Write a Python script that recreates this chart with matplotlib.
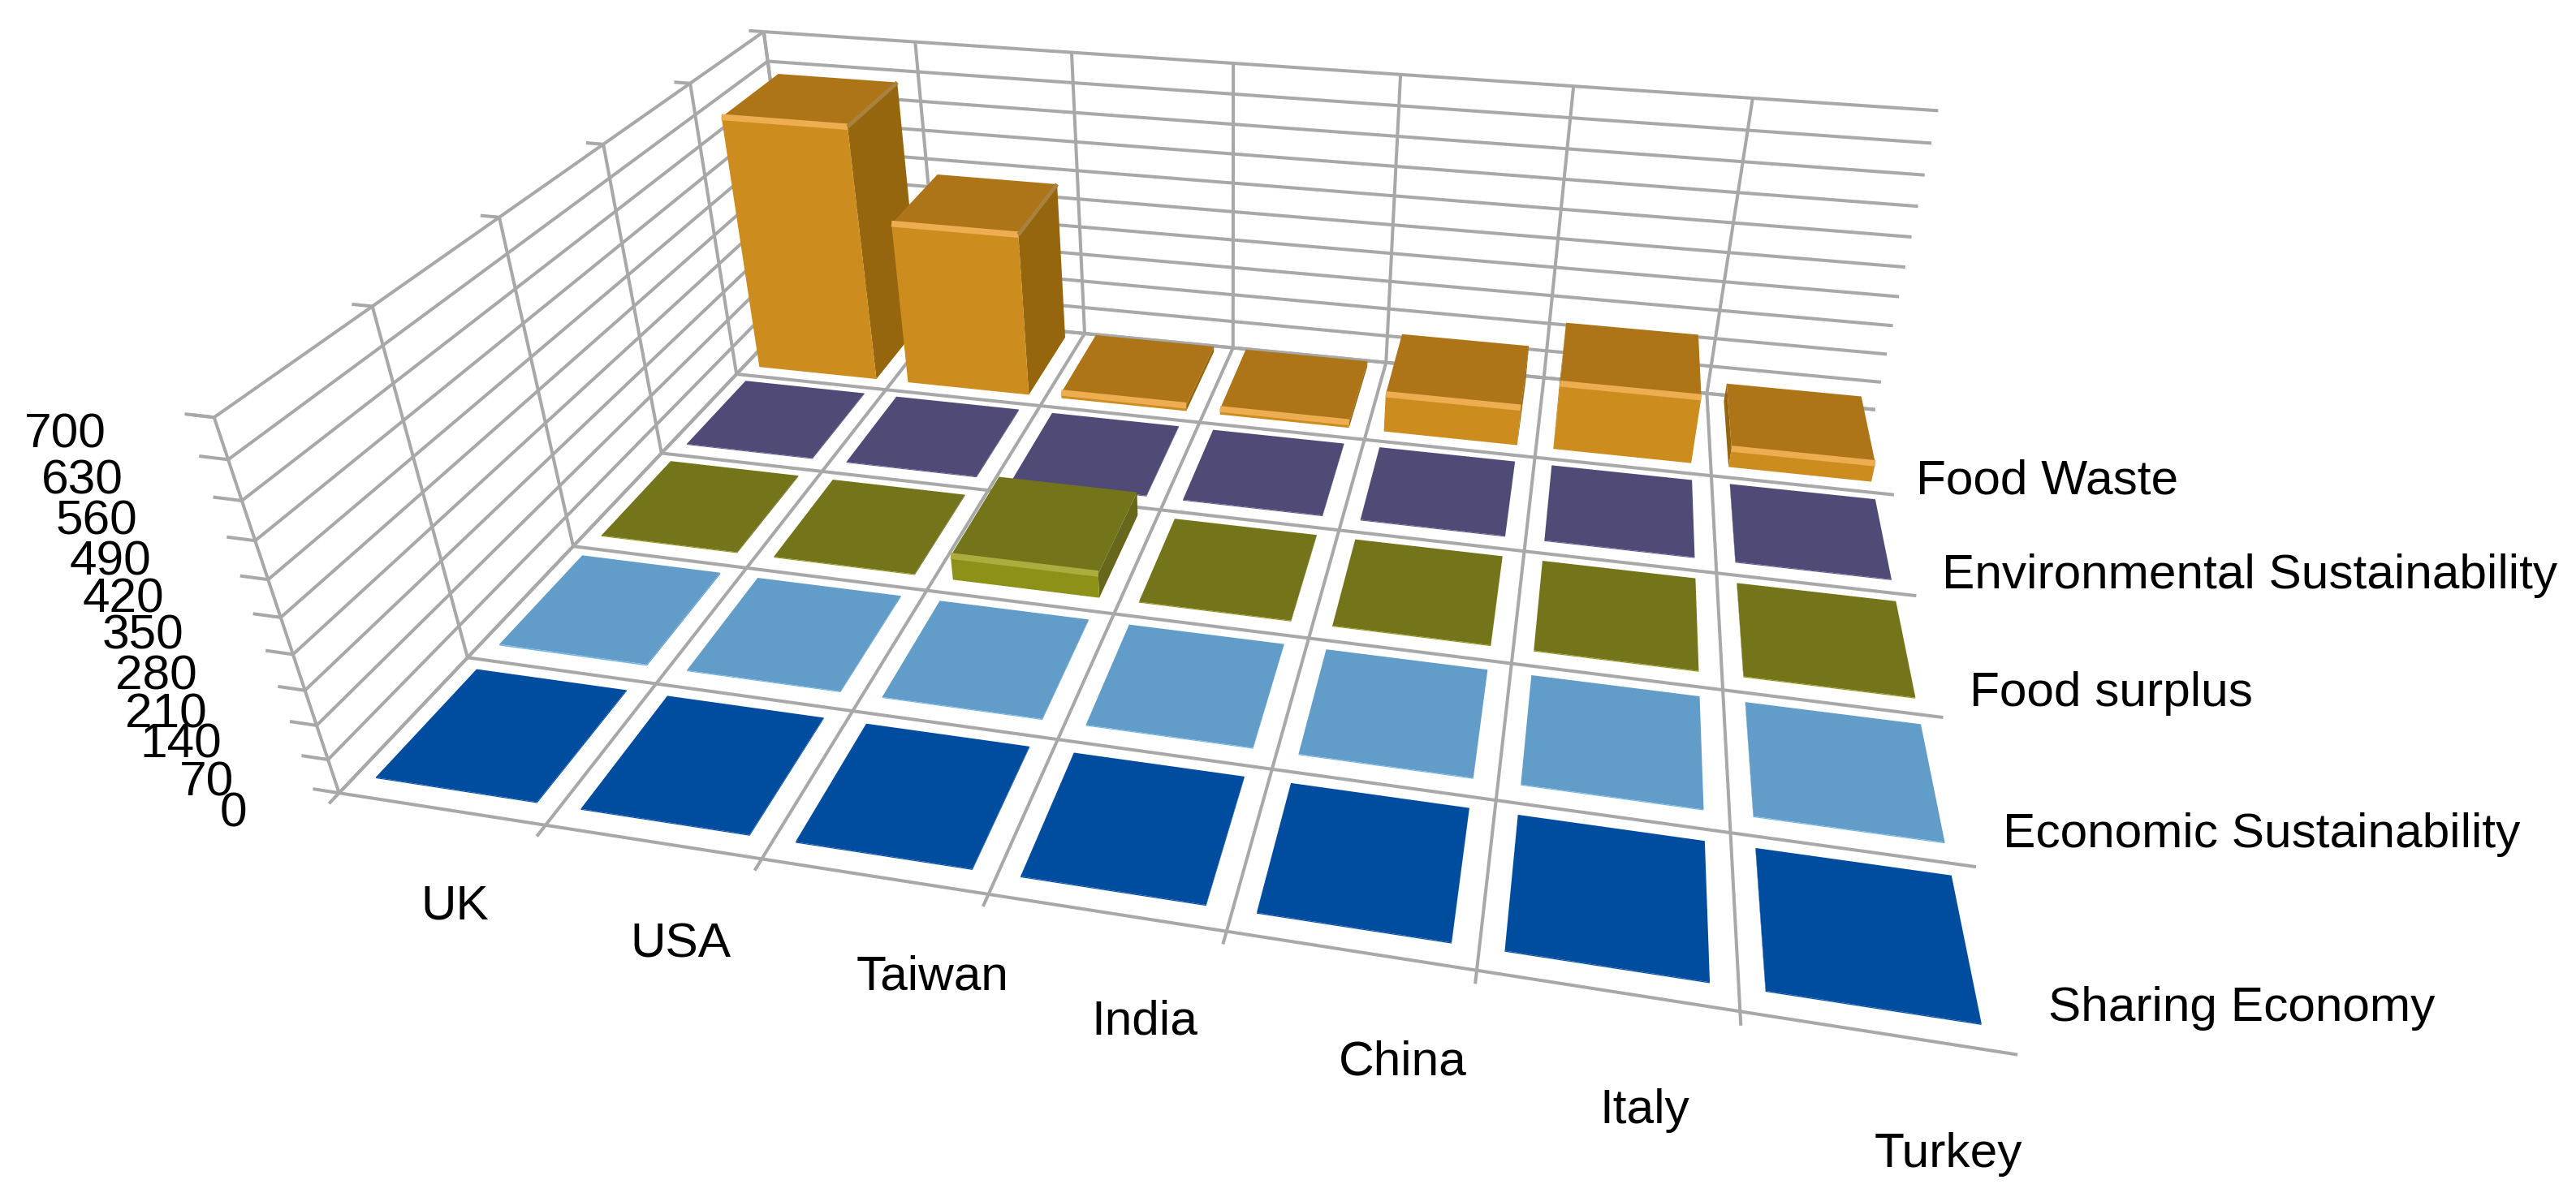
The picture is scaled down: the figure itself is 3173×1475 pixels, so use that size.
import numpy as np
import matplotlib
matplotlib.use('Agg')
import matplotlib.pyplot as plt

# ---- data ----
countries = ['UK', 'USA', 'Taiwan', 'India', 'China', 'Italy', 'Turkey']
series = ['Sharing Economy', 'Economic Sustainability', 'Food surplus',
          'Environmental Sustainability', 'Food Waste']
sharing_economy = [2, 2, 2, 2, 2, 2, 2]
economic_sust = [3, 2, 2, 2, 2, 2, 2]
food_surplus = [2, 2, 55, 2, 2, 2, 2]
environmental_sust = [2, 2, 2, 2, 2, 2, 2]
food_waste = [612, 395, 14, 14, 93, 160, 45]
z_ticks = [0, 70, 140, 210, 280, 350, 420, 490, 560, 630, 700]

# ---- styles: front, top, side, highlight ----
palette = [
    ('#014EA0', '#004DA0', '#014EA0', '#0A5AB4'),
    ('#6FB4E2', '#619DC8', '#619DC8', '#80C6F2'),
    ('#8E9118', '#74751A', '#66671A', '#ABAD3E'),
    ('#5A5488', '#4F4B76', '#4A466E', '#5F5A90'),
    ('#CC8C1E', '#AD7517', '#96660F', '#EDAD50'),
]
GRID = '#A8A8A8'
HIDDEN = (0, 0, 0, 0)
W, H = 3173, 1475
plt.rcParams['font.family'] = ['Liberation Sans', 'DejaVu Sans']

fig = plt.figure(figsize=(W / 100, H / 100), dpi=100, facecolor='white')
ax = fig.add_subplot(projection='3d', computed_zorder=False)
ax.set_xlim(0, 7, view_margin=0)
ax.set_ylim(0, 5, view_margin=0)
ax.set_zlim(0, 700, view_margin=0)
ax.view_init(29.835, -78.261, -0.015)
ax.set_proj_type('persp', focal_length=0.1907)
ax.set_box_aspect((1, 0.7095, 0.2753))
ax.set_axis_off()
ax.patch.set_alpha(0)

# axes frame fitted to the perspective (pixels)
sx, tx, sy, ty = 11407.72, 1515.79, -11329.82, 508.43
vx0, vx1 = ax.viewLim.intervalx
vy0, vy1 = ax.viewLim.intervaly
left = sx * vx0 + tx
width = sx * (vx1 - vx0)
bottom = H - (sy * vy0 + ty)
height = -sy * (vy1 - vy0)
ax.apply_aspect = lambda position=None: None
ax.set_position([left / W, bottom / H, width / W, height / H])


def line(xs, ys, zs, color=GRID, lw=2.9, z=1):
    ax.plot(xs, ys, zs, color=color, lw=lw, zorder=z, clip_on=False,
            solid_capstyle='butt')


nx, ny = len(countries), len(series)
top = z_ticks[-1]
tx_len, ty_len = 0.13, 0.07
for v in z_ticks:
    line([-tx_len, 0], [0, 0], [v, v])
    line([0, 0], [0, ny], [v, v])
    line([0, nx], [ny, ny], [v, v])
for i in range(nx):
    line([i, i], [ny, ny], [0, top])
    line([i, i], [-ty_len, ny], [0, 0])
for j in range(ny + 1):
    line([0, nx], [j, j], [0, 0])
    line([0, 0], [j, j], [0, top])
    line([-0.1, 0], [j, j], [top, top])

gap_x, bar_w = 0.10, 0.79
gap_y, bar_d = 0.12, 0.80
camera_col = 5  # bars left of this column show their right side, others their left side
rows = [sharing_economy, economic_sust, food_surplus, environmental_sust, food_waste]
order = 10
for j in range(ny - 1, -1, -1):
    front, topc, side, hi = palette[j]
    for i in [0, 1, 2, 3, 4, 6, 5]:
        v = rows[j][i]
        x0, y0 = i + gap_x, j + gap_y
        lft, rgt = (HIDDEN, side) if i < camera_col else (side, HIDDEN)
        faces = [HIDDEN, topc, front, HIDDEN, lft, rgt]
        c = ax.bar3d(x0, y0, 0, bar_w, bar_d, v, color=faces, shade=False,
                     edgecolor='none', linewidth=0, zsort='max')
        c.set_zorder(order)
        order += 1
        if v > 10:
            line([x0, x0 + bar_w], [y0, y0], [v, v], color=hi, lw=5.5, z=order)
            order += 1
            if i < 2:
                line([x0 + bar_w, x0 + bar_w], [y0, y0 + bar_d], [v, v],
                     color='#A8823E', lw=3.5, z=order)
                order += 1

ax.set_xlim(0, 7, view_margin=0)
ax.set_ylim(0, 5, view_margin=0)
ax.set_zlim(0, 700, view_margin=0)


def label(px, py, s, ha='center'):
    fig.text(px / W, 1 - py / H, s, fontsize=43.5, ha=ha, va='center', color='black')


z_label_xy = [(287, 1003), (254, 965), (223, 918), (204, 881), (192, 834), (176, 784),
              (152, 739), (136, 693), (119, 643), (101, 593), (80, 536)]
for (px, py), v in zip(z_label_xy, z_ticks):
    label(px, py, str(v))
country_xy = [(560, 1117), (838, 1164), (1149, 1204), (1410, 1259), (1728, 1309),
              (2026, 1368), (2400, 1423)]
for (px, py), s in zip(country_xy, countries):
    label(px, py, s)
series_xy = [(2523, 1243), (2467, 1028), (2426, 854), (2392, 710), (2360, 593)]
for (px, py), s in zip(series_xy, series):
    label(px, py, s, ha='left')

fig.savefig('out.png', dpi=100)
